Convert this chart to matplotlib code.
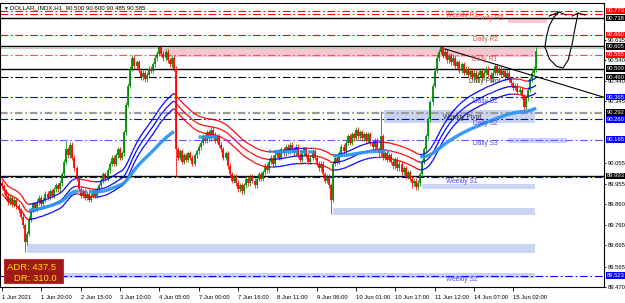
import numpy as np
import pandas as pd
import matplotlib
matplotlib.use("Agg")
import matplotlib.pyplot as plt
from matplotlib.collections import LineCollection
from matplotlib.patches import Rectangle

plt.rcParams['font.family'] = ['Liberation Sans', 'DejaVu Sans']
plt.rcParams['lines.scale_dashes'] = False

# ---- price data (H1 closes) ----
closes = [
    89.945, 89.92, 89.90, 89.87, 89.89, 89.86, 89.88, 89.85, 89.83, 89.80, 89.76, 89.68, 89.72, 89.79,
    89.83, 89.86, 89.84, 89.87, 89.89, 89.86, 89.88, 89.91, 89.89, 89.92, 89.90, 89.93, 89.95, 89.93, 89.96,
    90.00, 90.06, 90.12, 90.09, 90.14, 90.08, 90.03, 89.98, 89.93, 89.90, 89.92, 89.89, 89.91, 89.88, 89.90,
    89.92, 89.90, 89.93, 89.95,
    89.97, 90.00, 89.98, 90.02, 90.05, 90.08, 90.05, 90.09, 90.12, 90.08,
    90.10, 90.20, 90.33, 90.42, 90.50, 90.55,
    90.51, 90.53, 90.49, 90.46, 90.48, 90.45, 90.47, 90.50,
    90.49, 90.52, 90.55, 90.57, 90.60, 90.57, 90.55,
    90.58, 90.54, 90.52, 90.55, 90.50,
    90.12,
    90.08, 90.11, 90.06, 90.09, 90.07, 90.10, 90.08, 90.05, 90.09, 90.11, 90.13,
    90.15, 90.18, 90.16, 90.20, 90.17, 90.21, 90.19, 90.16, 90.18, 90.14,
    90.12, 90.08, 90.10, 90.04, 90.00, 89.97, 89.99,
    89.96, 89.93, 89.95, 89.92, 89.95, 89.98, 89.96, 89.99, 89.97, 89.95, 89.98, 90.00, 89.98,
    90.01, 90.04, 90.02, 90.06, 90.08, 90.05, 90.09, 90.11, 90.08, 90.12, 90.10, 90.13, 90.11, 90.14, 90.12,
    90.10, 90.13, 90.09, 90.07, 90.10, 90.12, 90.09, 90.06, 90.08, 90.11, 90.08, 90.05,
    90.03, 90.05, 90.00, 89.97, 89.99, 89.95,
    89.88, 90.05,
    90.08, 90.06, 90.10, 90.13, 90.11, 90.15, 90.18, 90.15, 90.19, 90.17, 90.21, 90.18, 90.20, 90.17, 90.19,
    90.16, 90.19, 90.15, 90.13, 90.16, 90.12, 90.10, 90.18, 90.08,
    90.10, 90.07, 90.09, 90.06, 90.04, 90.07, 90.03, 90.05, 90.01, 90.03, 89.99, 90.01,
    89.98, 89.96, 89.97, 89.94, 89.96,
    90.00, 90.06, 90.12, 90.18, 90.26, 90.34, 90.42, 90.49, 90.55,
    90.58, 90.60, 90.56, 90.58, 90.54, 90.56,
    90.53, 90.55, 90.51, 90.53, 90.49, 90.52, 90.48, 90.50, 90.47, 90.49, 90.46, 90.48, 90.45, 90.47,
    90.49, 90.46, 90.48, 90.50, 90.47, 90.45, 90.48, 90.51, 90.48, 90.50, 90.47, 90.49, 90.46, 90.48, 90.45,
    90.43, 90.41, 90.42, 90.39, 90.40,
    90.37, 90.32, 90.36,
    90.40, 90.45, 90.48, 90.500, 90.585,
]
first_open = 89.96
spike_highs = {31: 90.16, 76: 90.605, 84: 90.51, 183: 90.30, 212: 90.605, 258: 90.600}
spike_lows = {11: 89.635, 84: 89.99, 159: 89.815, 198: 89.935, 252: 90.29, 258: 90.485}

time_ticks = [0, 19, 38, 57, 76, 95, 114, 133, 152, 171, 190, 209, 228, 247]
time_labels = ["1 Jun 2021", "1 Jun 20:00", "2 Jun 15:00", "3 Jun 10:00", "4 Jun 05:00",
               "7 Jun 00:00", "7 Jun 16:00", "8 Jun 11:00", "9 Jun 06:00", "10 Jun 01:00",
               "10 Jun 17:00", "11 Jun 12:00", "14 Jun 07:00", "15 Jun 02:00"]

price_ticks = [90.635, 90.540, 90.440, 90.345, 90.055, 89.955, 89.860, 89.760, 89.665, 89.565, 89.470]

# pivot levels (dash-dot) and their labels
pivot_names = ["Weekly R1", "Daily R3", "Daily R2", "Daily R1", "Daily Pivot", "Daily S1",
               "Weekly Pivot", "Daily S2", "Daily S3", "Weekly S1", "Weekly S2"]
pivot_prices = [90.773, 90.758, 90.660, 90.565, 90.460, 90.365, 90.292, 90.260, 90.165, 89.986, 89.523]
pivot_label_bars = [222.0, 236.0, 233.8, 233.3, 233.3, 233.3, 222.2, 233.3, 233.3, 222.2, 222.2]

# solid horizontal lines
solid_levels = [90.738, 90.605, 90.500, 89.993]

# price boxes on the right scale
box_prices = [90.773, 90.738, 90.660, 90.605, 90.565, 90.500, 90.460, 90.365, 90.292, 90.260, 90.165, 89.993, 89.523]
box_kinds = ["r", "k", "r", "k", "r", "k", "k", "b", "k", "b", "b", "k", "b"]

# supply / demand zones: start bar, end bar, low, high
zone_start = [76.3, 244.4, 184.5, 244.4, 202.9, 159.9, 12.1, 12.1]
zone_end = [257.5, 263.3, 257.5, 273.0, 257.5, 257.5, 257.5, 257.5]
zone_low = [90.555, 90.716, 90.242, 90.149, 89.932, 89.809, 89.629, 89.511]
zone_high = [90.597, 90.737, 90.305, 90.172, 89.955, 89.842, 89.672, 89.535]
zone_kind = ["sell", "sell", "buy", "buy", "buy", "buy", "buy", "buy"]

# hand drawn objects
trend_line = [(214.0, 90.593), (292.0, 90.361)]
arrow_path_1 = [(262.3, 90.602), (263.0, 90.650), (264.3, 90.700), (266.5, 90.742), (269.1, 90.767)]
arrow_head_1 = [(264.3, 90.748), (269.1, 90.767), (272.5, 90.753)]
arrow_path_2 = [(262.3, 90.602), (264.5, 90.545), (268.0, 90.510), (271.0, 90.503), (273.5, 90.540),
                (275.5, 90.620), (277.0, 90.700), (278.3, 90.762)]
arrow_head_2 = [(275.4, 90.748), (278.3, 90.762), (281.6, 90.753)]

adr_text = "ADR: 437.5"
dr_text = "DR: 310.0"
title_text = "DOLLAR_INDX,H1  90.500 90.600 90.485 90.585"

# ---- figure ----
W, H = 625, 303
fig = plt.figure(figsize=(W / 100, H / 100), dpi=100)
ax_top, ax_bot = 3, 287
ax = fig.add_axes([0, (H - ax_bot) / H, 604 / W, (ax_bot - ax_top) / H])

px_per_bar = 2.07
px_per_price = 211.8
ax.set_xlim(-2 / px_per_bar, (604 - 2) / px_per_bar)
ax.set_ylim(90.635 - (ax_bot - 40) / px_per_price, 90.635 + (40 - ax_top) / px_per_price)

# zones
zone_colors = {"sell": "#f8c6d0", "buy": "#c9d5f2"}
for x0, x1, lo, hi, kind in zip(zone_start, zone_end, zone_low, zone_high, zone_kind):
    ax.add_patch(Rectangle((x0, lo), x1 - x0, hi - lo, facecolor=zone_colors[kind],
                           edgecolor="none", zorder=1))

# horizontal lines
dashdot = (0, (5.5, 2.0, 1.2, 2.0))
pivot_line_colors = ["#ff0000", "#ff0000", "#ff0000", "#ff5050", "#000000", "#0000ff",
                     "#9a9a9a", "#0000ff", "#5a5aff", "#0000ff", "#0000ff"]
pivot_text_colors = ["#f04848", "#f04848", "#f04848", "#f04848", "#404040", "#4a4ae6",
                     "#303030", "#4a4ae6", "#4a4ae6", "#4a4ae6", "#4a4ae6"]
for name, p, lc, tc, xb in zip(pivot_names, pivot_prices, pivot_line_colors, pivot_text_colors,
                               pivot_label_bars):
    lw = 1.6 if name == "Weekly Pivot" else 0.8
    ax.axhline(p, color=lc, lw=lw, linestyle=dashdot, zorder=2)
    ax.text(xb, p - 0.021, name, color=tc, fontsize=4.8, ha="center", va="center", zorder=6)
ax.axhline(90.597, color="#c8c8c8", lw=0.8, zorder=2)
for p in solid_levels:
    ax.axhline(p, color="black", lw=1.0, zorder=2)

# candles
c = np.array(closes)
o = np.r_[first_open, c[:-1]]
idx = np.arange(len(c))
wick = 0.012
hi = np.maximum(o, c) + wick
lo = np.minimum(o, c) - wick
for b, v in spike_highs.items():
    hi[b] = v
for b, v in spike_lows.items():
    lo[b] = v
col = np.where(c >= o, "#008a00", "#ff0000")
ax.vlines(idx, lo, hi, colors=col, lw=0.55, zorder=3)
ax.vlines(idx, np.minimum(o, c), np.maximum(o, c), colors=col, lw=1.25, zorder=3)

# moving average ribbon coloured by slope
s = pd.Series(c)
mid = s.ewm(span=45).mean().to_numpy()
rising = np.diff(mid) >= 0
seg_col = np.where(rising, "#0000ff", "#ff0000")
for off in (0.036, 0.0, -0.036):
    y = mid + off
    segs = np.stack([np.c_[idx[:-1], y[:-1]], np.c_[idx[1:], y[1:]]], axis=1)
    ax.add_collection(LineCollection(segs, colors=seg_col, lw=0.9, zorder=4))

# slow average, shown only while rising (or flat)
slow = s.ewm(span=120).mean().to_numpy()
slow_up = np.diff(slow) > -0.0006
segs = np.stack([np.c_[idx[:-1], slow[:-1]], np.c_[idx[1:], slow[1:]]], axis=1)[slow_up]
ax.add_collection(LineCollection(segs, colors="#2d95f0", lw=2.4, zorder=4))

# drawings
for path in (trend_line, arrow_path_1, arrow_head_1, arrow_path_2, arrow_head_2):
    xs, ys = zip(*path)
    ax.plot(xs, ys, color="black", lw=0.8, zorder=5)

# axes styling
for sp in ax.spines.values():
    sp.set_color("black")
    sp.set_linewidth(0.8)
ax.set_xticks(time_ticks)
ax.set_xticklabels(time_labels, fontsize=4.2, ha="left")
ax.tick_params(axis="x", length=3, width=0.6, pad=2.5)
ax.yaxis.tick_right()
ax.set_yticks(price_ticks)
ax.set_yticklabels([f"{p:.3f}" for p in price_ticks], fontsize=4.2)
ax.tick_params(axis="y", length=1.5, width=0.6, pad=1)

box_fc = {"r": "#ff0000", "k": "#000000", "b": "#0000ff"}
ytr = ax.get_yaxis_transform()
for p, k in zip(box_prices, box_kinds):
    ax.text(1.0 + 2.5 / 604, p, f"{p:.3f}", transform=ytr, fontsize=4.2, color="white",
            ha="left", va="center", clip_on=False, zorder=7,
            bbox=dict(boxstyle="square,pad=0.12", fc=box_fc[k], ec="none"))

# title
fig.text(3 / W, 1 - 8 / H, "\u25bc", fontsize=3.5, va="center", ha="left")
fig.text(10 / W, 1 - 8 / H, title_text, fontsize=4.4, va="center", ha="left")

# ADR box
fig.patches.append(Rectangle((4 / W, 1 - 283 / H), 59 / W, 24 / H, transform=fig.transFigure,
                             facecolor="#a01818", edgecolor="#c03030", lw=0.8, zorder=8))
fig.text(7 / W, 1 - 268 / H, adr_text, fontsize=6.8, color="#ffdc00", va="center", ha="left", zorder=9)
fig.text(14 / W, 1 - 278.5 / H, dr_text, fontsize=6.8, color="#ffdc00", va="center", ha="left", zorder=9)

fig.savefig("out.png", dpi=100, facecolor="white")
